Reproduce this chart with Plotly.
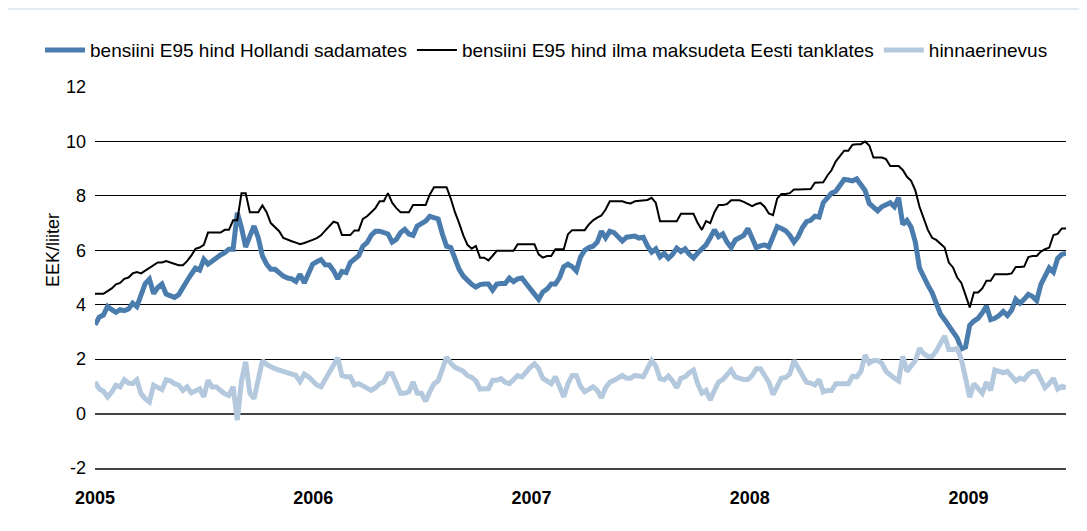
import pandas as pd
import plotly.graph_objects as go

# nädalased andmed, 2005 algusest 2009 juunini
start_date = "2005-01-01"
n_weeks = 233
dates = pd.date_range(start_date, periods=n_weeks, freq="7D")

# bensiini E95 hind Hollandi sadamates (EEK/l)
holland = [
    3.26, 3.54, 3.62, 3.94, 3.82, 3.72, 3.82, 3.78, 3.84, 4.06,
    3.93, 4.39, 4.78, 4.94, 4.41, 4.63, 4.76, 4.39, 4.33, 4.27,
    4.37, 4.67, 4.88, 5.12, 5.34, 5.27, 5.67, 5.49, 5.61, 5.73,
    5.83, 5.91, 6.04, 6.04, 7.38, 6.83, 6.12, 6.52, 6.89, 6.46,
    5.79, 5.49, 5.30, 5.30, 5.15, 5.05, 4.98, 4.95, 4.85, 5.12,
    4.80, 5.10, 5.49, 5.58, 5.66, 5.47, 5.46, 5.25, 4.95, 5.22,
    5.18, 5.55, 5.70, 5.80, 6.15, 6.28, 6.55, 6.70, 6.70, 6.65,
    6.60, 6.30, 6.40, 6.65, 6.77, 6.60, 6.55, 6.89, 7.00, 7.07,
    7.25, 7.20, 7.15, 6.60, 6.15, 6.10, 5.65, 5.30, 5.05, 4.87,
    4.75, 4.65, 4.74, 4.76, 4.76, 4.54, 4.76, 4.78, 4.78, 4.98,
    4.85, 4.95, 4.98, 4.78, 4.55, 4.39, 4.20, 4.47, 4.57, 4.76,
    4.76, 5.00, 5.40, 5.49, 5.40, 5.24, 5.75, 6.00, 6.10, 6.15,
    6.30, 6.70, 6.46, 6.70, 6.65, 6.50, 6.34, 6.48, 6.50, 6.52,
    6.45, 6.48, 6.16, 5.93, 6.05, 5.76, 5.88, 5.70, 5.85, 6.08,
    5.95, 6.05, 5.85, 5.72, 5.90, 6.05, 6.20, 6.46, 6.75, 6.50,
    6.60, 6.30, 6.10, 6.38, 6.45, 6.55, 6.80, 6.40, 6.10, 6.16,
    6.20, 6.12, 6.55, 6.87, 6.80, 6.72, 6.55, 6.30, 6.50, 6.83,
    7.05, 7.10, 7.25, 7.22, 7.75, 7.95, 8.10, 8.17, 8.40, 8.60,
    8.58, 8.55, 8.62, 8.42, 8.20, 7.72, 7.58, 7.45, 7.60, 7.70,
    7.75, 7.60, 7.93, 6.95, 7.10, 6.85, 6.30, 5.35, 5.00, 4.72,
    4.45, 4.10, 3.66, 3.45, 3.18, 3.00, 2.78, 2.38, 2.45, 3.25,
    3.40, 3.50, 3.70, 3.95, 3.45, 3.50, 3.60, 3.75, 3.60, 3.80,
    4.20, 4.05, 4.20, 4.38, 4.30, 4.15, 4.75, 5.10, 5.35, 5.20,
    5.70, 5.85, 5.90,
]

# bensiini E95 hind ilma maksudeta Eesti tanklates (EEK/l)
eesti = [
    4.40, 4.40, 4.40, 4.50, 4.60, 4.75, 4.80, 4.95, 5.00, 5.15,
    5.20, 5.15, 5.25, 5.35, 5.45, 5.55, 5.55, 5.60, 5.55, 5.50,
    5.45, 5.45, 5.60, 5.80, 6.05, 6.10, 6.20, 6.65, 6.65, 6.65,
    6.65, 6.75, 6.75, 7.10, 7.10, 8.10, 8.10, 7.40, 7.40, 7.40,
    7.65, 7.40, 7.00, 6.85, 6.70, 6.45, 6.38, 6.33, 6.28, 6.22,
    6.27, 6.32, 6.38, 6.45, 6.55, 6.72, 6.90, 7.05, 7.00, 6.56,
    6.56, 6.56, 6.73, 6.73, 7.15, 7.25, 7.40, 7.55, 7.80, 7.80,
    8.10, 7.75, 7.55, 7.40, 7.40, 7.40, 7.66, 7.66, 7.66, 7.66,
    8.05, 8.32, 8.32, 8.32, 8.32, 7.90, 7.40, 7.00, 6.55, 6.20,
    6.06, 6.16, 5.73, 5.73, 5.63, 5.80, 5.98, 5.98, 5.98, 5.98,
    5.98, 6.22, 6.22, 6.22, 6.22, 6.22, 5.85, 5.73, 5.79, 5.79,
    6.04, 6.04, 6.04, 6.59, 6.74, 6.74, 6.74, 6.74, 6.95, 7.10,
    7.20, 7.28, 7.50, 7.80, 7.80, 7.80, 7.80, 7.75, 7.72, 7.80,
    7.82, 7.82, 7.85, 7.93, 7.74, 7.07, 7.07, 7.07, 7.07, 7.07,
    7.34, 7.34, 7.34, 7.34, 7.00, 6.75, 7.07, 7.00, 7.40, 7.66,
    7.66, 7.70, 7.84, 7.84, 7.84, 7.78, 7.70, 7.62, 7.70, 7.74,
    7.60, 7.35, 7.29, 7.90, 8.07, 8.07, 8.10, 8.23, 8.23, 8.23,
    8.23, 8.25, 8.48, 8.48, 8.50, 8.75, 8.95, 9.27, 9.45, 9.66,
    9.66, 9.88, 9.90, 9.90, 10.00, 9.85, 9.41, 9.41, 9.41, 9.35,
    9.10, 9.10, 9.10, 8.95, 8.70, 8.55, 8.20, 7.60, 7.15, 6.75,
    6.46, 6.38, 6.24, 6.10, 5.55, 5.37, 5.00, 4.80, 4.35, 3.90,
    4.45, 4.45, 4.60, 4.88, 4.88, 5.12, 5.12, 5.12, 5.12, 5.15,
    5.39, 5.39, 5.40, 5.75, 5.79, 5.79, 5.95, 6.04, 6.10, 6.56,
    6.60, 6.80, 6.80,
]

# hinnaerinevus (EEK/l)
erinevus = [
    1.16, 0.91, 0.82, 0.61, 0.79, 1.04, 0.98, 1.24, 1.12, 1.10,
    1.24, 0.73, 0.55, 0.43, 1.04, 0.98, 0.88, 1.24, 1.20, 1.10,
    1.04, 0.85, 0.98, 0.76, 0.85, 0.91, 0.61, 1.22, 0.98, 0.98,
    0.85, 0.73, 0.67, 0.98, -0.24, 1.20, 1.90, 0.75, 0.55, 1.20,
    1.95, 1.80, 1.70, 1.65, 1.60, 1.55, 1.52, 1.45, 1.40, 1.18,
    1.45, 1.35, 1.22, 1.05, 0.98, 1.25, 1.50, 1.70, 2.05, 1.40,
    1.35, 1.35, 1.05, 1.10, 1.00, 0.95, 0.85, 0.95, 1.10, 1.16,
    1.46, 1.46, 1.10, 0.75, 0.75, 0.80, 1.16, 0.75, 0.75, 0.45,
    0.80, 1.10, 1.20, 1.60, 2.07, 1.85, 1.70, 1.63, 1.55, 1.40,
    1.33, 1.20, 0.90, 0.91, 0.91, 1.22, 1.22, 1.28, 1.15, 1.10,
    1.25, 1.40, 1.35, 1.55, 1.70, 1.83, 1.65, 1.30, 1.20, 1.10,
    1.35, 1.00, 0.62, 1.10, 1.40, 1.40, 1.00, 0.80, 0.90, 0.98,
    0.85, 0.58, 0.95, 1.15, 1.22, 1.30, 1.40, 1.30, 1.30, 1.40,
    1.38, 1.35, 1.65, 1.95, 1.75, 1.28, 1.24, 1.38, 1.20, 0.95,
    1.30, 1.35, 1.50, 1.60, 1.10, 0.75, 0.85, 0.50, 0.85, 1.16,
    1.25, 1.40, 1.60, 1.35, 1.30, 1.25, 1.25, 1.40, 1.65, 1.65,
    1.40, 1.15, 0.70, 1.00, 1.30, 1.33, 1.45, 1.95, 1.65, 1.35,
    1.15, 1.12, 1.05, 1.25, 0.80, 0.85, 0.85, 1.10, 1.10, 1.10,
    1.10, 1.37, 1.35, 1.55, 2.15, 1.85, 1.95, 1.95, 1.85, 1.55,
    1.40, 1.30, 1.20, 2.10, 1.55, 1.75, 1.95, 2.40, 2.20, 2.10,
    2.10, 2.30, 2.60, 2.85, 2.35, 2.35, 2.40, 2.00, 1.30, 0.60,
    1.10, 0.95, 0.75, 1.15, 0.85, 1.60, 1.55, 1.50, 1.55, 1.35,
    1.20, 1.30, 1.25, 1.45, 1.55, 1.55, 1.20, 0.95, 1.10, 1.30,
    0.90, 1.00, 0.95,
]

year_ticks = ["2005-01-01", "2006-01-01", "2007-01-01", "2008-01-01", "2009-01-01"]
year_labels = ["2005", "2006", "2007", "2008", "2009"]
y_ticks = [-2, 0, 2, 4, 6, 8, 10, 12]

FONT = "Liberation Sans, Arial, sans-serif"
BLUE = "#4a7cad"
LIGHT = "#b4c9dd"

fig = go.Figure()
fig.add_trace(go.Scatter(x=dates, y=holland, mode="lines",
                         name="bensiini E95 hind Hollandi sadamates",
                         line=dict(color=BLUE, width=5)))
fig.add_trace(go.Scatter(x=dates, y=eesti, mode="lines",
                         name="bensiini E95 hind ilma maksudeta Eesti tanklates",
                         line=dict(color="#000000", width=2)))
fig.add_trace(go.Scatter(x=dates, y=erinevus, mode="lines",
                         name="hinnaerinevus",
                         line=dict(color=LIGHT, width=5)))

# valge paneel helesinisel taustal
fig.add_shape(type="rect", xref="paper", yref="paper",
              x0=-0.2, x1=1.1, y0=-0.3, y1=1.2021,
              fillcolor="white", line_width=0, layer="below")

# y-telje pealkiri
fig.add_annotation(text="EEK/liiter", xref="paper", yref="paper",
                   x=-0.0433, y=0.572, xanchor="center", yanchor="middle",
                   textangle=-90, showarrow=False, font=dict(size=18))

fig.update_layout(
    width=1079, height=523,
    margin=dict(l=87, r=21, t=79, b=63),
    paper_bgcolor="#e4ebf3",
    plot_bgcolor="white",
    font=dict(family=FONT, size=18, color="#000000"),
    showlegend=True,
    legend=dict(orientation="h", x=-0.0566, xanchor="left", y=1.097, yanchor="middle",
                font=dict(size=19), bgcolor="rgba(0,0,0,0)", itemwidth=40),
)
fig.update_xaxes(
    range=[dates[0], dates[-1]],
    tickvals=year_ticks,
    ticktext=["<b>%s</b>" % s for s in year_labels],
    showgrid=False, zeroline=False,
    showline=True, linecolor="#444444", linewidth=2,
    ticks="", ticklabelstandoff=12,
    tickfont=dict(size=18),
)
fig.update_yaxes(
    range=[-2, 12],
    tickvals=y_ticks, ticktext=[str(v) for v in y_ticks],
    showgrid=True, gridcolor="#000000", gridwidth=1,
    zeroline=True, zerolinecolor="#444444", zerolinewidth=2,
    ticks="", ticklabelstandoff=8,
    tickfont=dict(size=18),
)

fig.write_html("out.html")
